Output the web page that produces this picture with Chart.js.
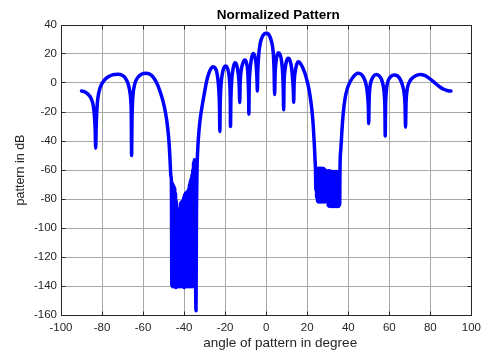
<!DOCTYPE html>
<html>
<head>
<meta charset="utf-8">
<script src="https://cdn.jsdelivr.net/npm/chart.js@4.4.1/dist/chart.umd.min.js"></script>
<style>
html,body{margin:0;padding:0;background:#ffffff;}
#wrap{width:487px;height:354px;position:relative;}
</style>
</head>
<body>
<div id="wrap"><canvas id="c" width="487" height="354"></canvas></div>
<script>
// ---- data ----
const chartTitle = 'Normalized Pattern';
const xAxisLabel = 'angle of pattern in degree';
const yAxisLabel = 'pattern in dB';
const xTickValues = [-100, -80, -60, -40, -20, 0, 20, 40, 60, 80, 100];
const yTickValues = [-160, -140, -120, -100, -80, -60, -40, -20, 0, 20, 40];

// angle (deg) of each sample of the pattern
const angleDeg = [
  -90, -88.5, -86.8, -85.3, -84.3, -83.7, -83.35, -83.1, -82.85, -82.5, -82.0, -81.0, -79.5, -78.0, -76.0, -74.0, -72.1, -70.2, -68.6, -67.3, -66.5, -66.0, -65.75, -65.6,
  -65.4, -65.1, -64.6, -63.8, -62.5, -60.8, -58.8, -57.0, -55.2, -53.4, -51.8, -50.3, -49.0, -48.0, -47.3, -46.8, -46.45,
  -46.2, -46.0, -45.8, -45.6, -45.4, -45.2, -45.0, -44.8, -44.6, -44.4, -44.2, -44.0, -43.8, -43.6, -43.4, -43.2, -43.0, -42.8, -42.6, -42.4, -42.2, -42.0,
  -41.8, -41.6, -41.4, -41.2, -41.0, -40.8, -40.6, -40.4, -40.2, -40.0, -39.8, -39.6, -39.4, -39.2, -39.0, -38.8, -38.6, -38.4, -38.2, -38.0,
  -37.8, -37.6, -37.4, -37.2, -37.0, -36.8, -36.6, -36.4, -36.2, -36.0, -35.8, -35.6, -35.4, -35.2, -35.0,
  -34.2, -34.0, -33.7, -33.3, -32.7, -32.0, -31.0, -30.0, -29.0, -28.0, -27.0, -26.0, -25.0, -24.1, -23.5, -23.0, -22.75, -22.6,
  -22.4, -22.0, -21.3, -20.5, -19.7, -18.9, -18.2, -17.7, -17.5, -17.4,
  -17.2, -16.8, -16.2, -15.3, -14.4, -13.6, -13.15, -12.9,
  -12.7, -12.2, -11.4, -10.5, -9.7, -9.0, -8.7, -8.55, -8.45,
  -8.3, -7.9, -7.2, -6.4, -5.6, -4.9, -4.5, -4.3,
  -4.1, -3.6, -2.8, -1.8, -0.8, 0.1, 1.0, 2.0, 2.9, 3.5, 3.85, 4.1,
  4.35, 4.8, 5.4, 6.0, 6.8, 7.5, 8.0, 8.3, 8.5,
  8.7, 9.2, 9.9, 10.7, 11.6, 12.4, 12.95, 13.25, 13.4,
  13.6, 14.1, 14.8, 15.7, 16.7, 17.8, 18.9, 19.9, 20.8, 21.6, 22.3, 22.9, 23.4, 23.8, 24.0,
  24.2, 24.4, 24.6, 24.8, 25.0, 25.2, 25.4, 25.6, 25.8, 26.0, 26.2, 26.4, 26.6, 26.8, 27.0, 27.2, 27.4, 27.6, 27.8, 28.0, 28.2, 28.4, 28.6, 28.8, 29.0, 29.2, 29.6,
  30.0, 30.2, 30.4, 30.6, 30.8, 31.0, 31.2, 31.4, 31.6, 31.8, 32.0, 32.2, 32.4, 32.6, 32.8, 33.0, 33.2, 33.4, 33.6, 33.8, 34.0, 34.2, 34.4, 34.6, 34.8, 35.0, 35.2, 35.4, 35.6, 35.8,
  36.0, 36.4, 36.9, 37.6, 38.5, 39.5, 40.6, 41.8, 43.2, 44.6, 46.0, 47.3, 48.4, 49.1, 49.55, 49.8, 49.95,
  50.15, 50.5, 51.2, 52.2, 53.6, 55.0, 56.2, 57.1, 57.6, 57.85, 58.0,
  58.15, 58.5, 59.2, 60.4, 62.2, 63.9, 65.3, 66.4, 67.2, 67.65, 67.9,
  68.15, 68.6, 69.4, 70.8, 72.8, 75.0, 77.2, 79.5, 82.0, 84.5, 86.8, 88.5, 90.0
];

// normalized pattern (dB) at each angle above
const patternDb = [
  -5.5, -6.0, -7.8, -10.8, -15.5, -23, -32, -45, -30, -18, -10, -3.5, 0.8, 3.2, 5.0, 5.9, 6.0, 5.3, 3.3, -0.5, -5.5, -12, -22, -50,
  -25, -12, -4.5, 0.5, 4.0, 6.0, 6.8, 6.3, 4.3, 0.2, -5.5, -12.5, -21, -31, -42, -55, -64,
  -68, -139.5, -69, -140.5, -70, -139, -71, -140.5, -72.5, -139.5, -76, -141, -81, -139.5, -86, -140.5, -92, -139, -93, -140.5, -91, -139.5,
  -83, -140.5, -82, -139, -82, -140.5, -81, -139.5, -79, -141, -77, -139.5, -76, -140.5, -75.5, -139, -75, -140.5, -74.5, -139.5,
  -73, -140.5, -70, -139, -68, -140.5, -66, -139.5, -63.5, -140.5, -60, -139, -55, -140, -53,
  -157, -95, -60, -44, -32, -23, -14, -6, 1.5, 6.5, 9.8, 11.2, 10.6, 7.5, 2, -7, -17, -33.5,
  -14, -1, 7, 10.8, 11.7, 10.3, 6, -2, -12, -30,
  -11, 2, 9.5, 14, 12.5, 6, -2, -13.5,
  -1, 8.5, 13.5, 15.8, 14.3, 8, -2, -10, -21.5,
  -4, 8.5, 16.5, 20.4, 18.8, 12.5, 3, -5.5,
  8, 20, 28, 32.2, 34, 34.3, 33.8, 31.3, 26.5, 19.5, 8, -8,
  6, 15, 19.5, 20.8, 19.5, 15, 7, -4, -18.5,
  -1, 9.5, 15, 17, 15.5, 10, 1, -6, -13.3,
  -1, 7.5, 12.5, 14.6, 13.5, 10.5, 6.5, 1.5, -4, -11, -19, -29, -41, -53, -59,
  -74, -59, -79, -59, -81.5, -59, -82, -58.8, -81.5, -59, -82, -59, -81.5, -58.8, -82, -59, -81.5, -59, -82, -59, -81.5, -59.5, -82, -60, -81.5, -81, -80,
  -60.5, -84.5, -60.5, -85, -60.5, -84.5, -60.8, -85, -61, -85.2, -61, -85, -61.2, -85.2, -61, -85, -61.2, -85.2, -61, -85, -61.2, -85.2, -61, -85, -61.2, -85.2, -61, -85, -61, -84,
  -56, -45, -33, -20, -10, -4, 0, 3, 5.5, 6.8, 6.3, 4.3, 0.5, -4.5, -11, -18, -28,
  -12, -3.5, 1.5, 4.5, 5.8, 5.0, 2.5, -2.5, -9, -18, -36.5,
  -18, -6, 0.5, 4, 5.6, 5, 2.5, -1.5, -7, -15, -30.5,
  -14, -5.5, -0.5, 2.8, 5, 5.9, 5.2, 3.2, 0.3, -2.6, -4.5, -5.3, -5.5
];

const FONT = 'Liberation Sans, Arial, Helvetica, sans-serif';
const AXIS_COLOR = '#262626';

// axes box with inward tick marks (MATLAB style)
const boxPlugin = {
  id: 'matlabBox',
  beforeDatasetsDraw(chart) {
    const {ctx, chartArea: a, scales: {x, y}} = chart;
    const al = p => Math.round(p - 0.5) + 0.5;
    ctx.save();
    ctx.strokeStyle = AXIS_COLOR;
    ctx.lineWidth = 1;
    ctx.beginPath();
    const L = al(a.left), R = al(a.right), T = al(a.top), B = al(a.bottom);
    xTickValues.forEach(v => {
      const px = al(x.getPixelForValue(v));
      ctx.moveTo(px, B); ctx.lineTo(px, B - 4);
      ctx.moveTo(px, T); ctx.lineTo(px, T + 4);
    });
    yTickValues.forEach(v => {
      const py = al(y.getPixelForValue(v));
      ctx.moveTo(L, py); ctx.lineTo(L + 4, py);
      ctx.moveTo(R, py); ctx.lineTo(R - 4, py);
    });
    ctx.rect(L, T, R - L, B - T);
    ctx.stroke();
    ctx.restore();
  },
  afterLayout(chart) {
    // title and x label sit a little right of the axes centre in the reference
    const t = chart.titleBlock;
    if (t) {
      const shift = 12;
      t.left = chart.chartArea.left + shift;
      t.right = chart.chartArea.right + shift;
    }
    const sx = chart.scales.x;
    if (sx && !sx._shiftPatched) {
      const orig = sx.drawTitle.bind(sx);
      sx.drawTitle = function () {
        this.ctx.save();
        this.ctx.translate(14, 0);
        orig();
        this.ctx.restore();
      };
      sx._shiftPatched = true;
    }
  }
};

const points = angleDeg.map((a, i) => ({x: a, y: patternDb[i]}));

new Chart(document.getElementById('c'), {
  type: 'scatter',
  data: {
    datasets: [{
      data: points,
      showLine: true,
      borderColor: '#0000ff',
      backgroundColor: '#0000ff',
      borderWidth: 3.5,
      pointRadius: 0,
      pointHoverRadius: 0,
      cubicInterpolationMode: 'monotone',
      borderJoinStyle: 'round',
      borderCapStyle: 'round',
      fill: false
    }]
  },
  options: {
    responsive: false,
    animation: false,
    devicePixelRatio: 1,
    layout: {padding: {left: 0, right: 15, top: 0, bottom: 0}},
    plugins: {
      legend: {display: false},
      tooltip: {enabled: false},
      title: {
        display: true,
        text: chartTitle,
        color: '#000000',
        font: {family: FONT, size: 13.5, weight: 'bold'},
        padding: {top: 7, bottom: 1.8}
      }
    },
    scales: {
      x: {
        type: 'linear',
        min: -100, max: 100,
        afterBuildTicks: s => { s.ticks = xTickValues.map(v => ({value: v})); },
        afterFit: s => { s.height = 39; },
        ticks: {
          color: AXIS_COLOR,
          font: {family: FONT, size: 11.5},
          padding: 6,
          maxRotation: 0,
          autoSkip: false,
          callback: v => String(v)
        },
        grid: {color: '#a8a8a8', lineWidth: 1, drawTicks: false},
        border: {display: false},
        title: {
          display: true,
          text: xAxisLabel,
          color: AXIS_COLOR,
          font: {family: FONT, size: 13.5},
          padding: {top: 0, bottom: 3}
        }
      },
      y: {
        type: 'linear',
        min: -160, max: 40,
        afterBuildTicks: s => { s.ticks = yTickValues.map(v => ({value: v})); },
        afterFit: s => { s.width = 61; },
        ticks: {
          color: AXIS_COLOR,
          font: {family: FONT, size: 11.5},
          padding: 4,
          autoSkip: false,
          callback: v => String(v)
        },
        grid: {color: '#a8a8a8', lineWidth: 1, drawTicks: false},
        border: {display: false},
        title: {
          display: true,
          text: yAxisLabel,
          color: AXIS_COLOR,
          font: {family: FONT, size: 12.5},
          padding: {top: 13.5, bottom: 0}
        }
      }
    }
  },
  plugins: [boxPlugin]
});
</script>
</body>
</html>
